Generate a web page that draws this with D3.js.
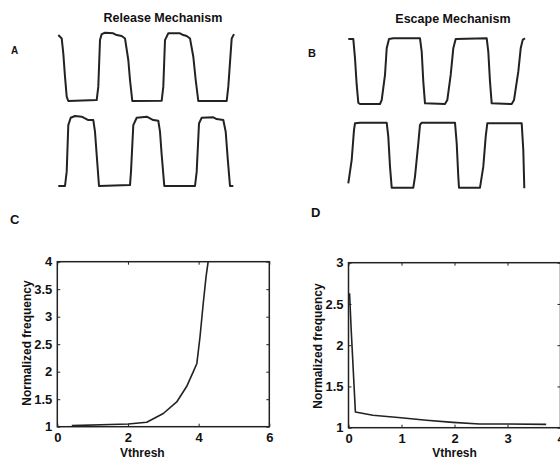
<!DOCTYPE html>
<html>
<head>
<meta charset="utf-8">
<script src="https://cdn.jsdelivr.net/npm/d3@7"></script>
<style>
  body { margin: 0; background: #fff; }
  svg { display: block; font-family: "Liberation Sans", Arial, sans-serif; }
  .wave, .curve { fill: none; stroke: #222; stroke-linejoin: round; }
  .box { fill: none; stroke: #222; stroke-width: 1.5; }
  .lbl { font-weight: bold; fill: #111; }
</style>
</head>
<body>
<svg id="chart" width="560" height="459"></svg>
<script>
// membrane traces: [time (ms), voltage (mV)]
const releaseTop = [[8.3,-11.3],[11.7,-13.8],[13.3,-24.8],[15,-42],[16.7,-56.8],[18.3,-60],[46.7,-59.3],[48.3,-49.4],[50,-15],[51.7,-10.6],[55,-9.6],[63.3,-10],[66.7,-11.3],[71.7,-12],[75,-13.8],[78.3,-29.7],[80,-44.5],[82.3,-60],[111.7,-59.8],[113.3,-49.4],[115,-15],[118.3,-10],[130,-10],[133.3,-11.3],[136.7,-12],[140,-13.8],[143.3,-27.3],[145.7,-44.5],[148.3,-60],[176.7,-60],[178.3,-49.4],[181.7,-13.8],[184,-10.6]];
const releaseBottom = [[8.3,-60],[15,-60],[16.7,-49.4],[18.3,-15],[20.7,-9.6],[25,-8.3],[31.7,-8.8],[35,-10],[38.3,-11.3],[43.3,-11.3],[45,-19.9],[46.7,-37.1],[49,-60],[80,-59.3],[81,-49.4],[83.3,-15],[86.7,-9.6],[96.7,-8.8],[100,-10],[103.3,-11.3],[108.3,-11.8],[110,-19.9],[111.7,-37.1],[114.3,-60],[145,-60],[146.7,-49.4],[149,-13.8],[151.7,-9.6],[163.3,-9.3],[166.7,-10.6],[173.3,-11.3],[175.7,-19.9],[177.7,-39.6],[180,-60],[183.3,-60]];
const escapeTop = [[8.3,-10.5],[13.3,-10.5],[15,-25.2],[16.7,-45.5],[18.3,-59],[20,-60],[40,-60],[41.7,-57],[45,-37.9],[46.7,-17.6],[49,-10.5],[53.3,-10],[80,-10],[81.7,-20.1],[83.3,-43],[85,-59.5],[105,-60],[107.3,-57],[110.7,-37.9],[113.3,-17.6],[115.7,-10.5],[146.7,-10],[148.3,-20.1],[150,-43],[151.7,-59.5],[171.7,-60],[174,-57],[178.3,-35.4],[180.7,-17.6],[182.7,-11.2],[185,-10]];
const escapeBottom = [[8.3,-56.2],[11.7,-38.4],[14,-15.5],[15,-10.5],[20,-10],[46.7,-10],[48.3,-20.6],[50,-43.5],[51.7,-59.5],[73.3,-59.5],[75,-51.1],[78.3,-25.7],[80,-11.7],[81.7,-10],[115,-10],[116.7,-25.7],[118.3,-51.1],[119,-59.5],[140,-59.5],[143.3,-43.5],[145.7,-20.6],[147.3,-10.5],[181.7,-10.5],[183.3,-30.8],[184.3,-60]];

// normalized frequency vs Vthresh
const releaseVthresh = [0.41, 1.49, 2.01, 2.53, 3.0, 3.38, 3.66, 3.85, 3.95, 4.04, 4.13, 4.21, 4.27];
const releaseFreq    = [1.02, 1.04, 1.05, 1.08, 1.24, 1.45, 1.73, 2.0, 2.15, 2.64, 3.24, 3.73, 4.0];
const escapeVthresh  = [0.02, 0.05, 0.13, 0.46, 0.99, 1.47, 1.97, 2.47, 2.97, 3.73];
const escapeFreq     = [2.63, 2.2, 1.19, 1.15, 1.12, 1.09, 1.065, 1.045, 1.045, 1.04];

const cTicksX = [0, 2, 4, 6];
const cTicksY = [1, 1.5, 2, 2.5, 3, 3.5, 4];
const dTicksX = [0, 1, 2, 3, 4];
const dTicksY = [1, 1.5, 2, 2.5, 3];

const svg = d3.select("#chart");
svg.append("rect").attr("width", 560).attr("height", 459).attr("fill", "#fff");

// ---- voltage traces ----
function trace(data, xr, yr) {
  const x = d3.scaleLinear().domain([0, 200]).range(xr);
  const y = d3.scaleLinear().domain([-60, -10]).range(yr);
  svg.append("path")
    .datum(data)
    .attr("class", "wave")
    .attr("stroke-width", 2)
    .attr("d", d3.line().x(d => x(d[0])).y(d => y(d[1])));
}
trace(releaseTop, [50, 250], [101, 33.3]);
trace(releaseBottom, [50, 250], [186, 118.3]);
trace(escapeTop, [340, 540], [104, 38.3]);
trace(escapeBottom, [340, 540], [188.3, 122.7]);

svg.append("text").attr("class", "lbl").attr("x", 163).attr("y", 22)
  .attr("text-anchor", "middle").attr("font-size", 12.5).text("Release Mechanism");
svg.append("text").attr("class", "lbl").attr("x", 453).attr("y", 23)
  .attr("text-anchor", "middle").attr("font-size", 12.5).text("Escape Mechanism");

// panel letters
[["A", 11, 54, 10], ["B", 308, 57, 11], ["C", 10, 224, 13], ["D", 311, 217, 13]]
  .forEach(([t, x, y, s]) => svg.append("text").attr("class", "lbl")
    .attr("x", x).attr("y", y).attr("font-size", s).text(t));

// ---- frequency plots ----
function freqPlot(o) {
  const x = d3.scaleLinear().domain(o.xd).range(o.xr);
  const y = d3.scaleLinear().domain(o.yd).range(o.yr);
  const g = svg.append("g");

  // inward ticks on all sides, Matlab style
  const tl = 3;
  g.append("g").attr("transform", `translate(0,${o.yr[0]})`)
    .call(d3.axisBottom(x).tickValues(o.tx).tickSize(-tl).tickFormat(d3.format("d")))
    .call(a => a.select(".domain").remove())
    .call(a => a.selectAll("text").attr("class", "lbl").attr("font-size", 13)
      .attr("y", 6).attr("fill", "#111"));
  g.append("g").attr("transform", `translate(0,${o.yr[1]})`)
    .call(d3.axisTop(x).tickValues(o.tx).tickSize(-tl).tickFormat(""))
    .call(a => a.select(".domain").remove());
  g.append("g").attr("transform", `translate(${o.xr[0]},0)`)
    .call(d3.axisLeft(y).tickValues(o.ty).tickSize(-tl).tickFormat(d3.format("")))
    .call(a => a.select(".domain").remove())
    .call(a => a.selectAll("text").attr("class", "lbl").attr("font-size", 13)
      .attr("x", -5).attr("fill", "#111"));
  g.append("g").attr("transform", `translate(${o.xr[1]},0)`)
    .call(d3.axisRight(y).tickValues(o.ty).tickSize(-tl).tickFormat(""))
    .call(a => a.select(".domain").remove());
  g.selectAll("g").attr("font-family", null);
  g.selectAll(".tick line").attr("stroke", "#222");

  g.append("rect").attr("class", "box")
    .attr("x", o.xr[0]).attr("y", o.yr[1])
    .attr("width", o.xr[1] - o.xr[0]).attr("height", o.yr[0] - o.yr[1]);

  g.append("path")
    .datum(d3.zip(o.vx, o.vy))
    .attr("class", "curve")
    .attr("stroke-width", 1.6)
    .attr("d", d3.line().x(d => x(d[0])).y(d => y(d[1])));

  g.append("text").attr("class", "lbl").attr("font-size", 12)
    .attr("text-anchor", "middle")
    .attr("x", (o.xr[0] + o.xr[1]) / 2 - o.xlShift).attr("y", 457).text("Vthresh");
  g.append("text").attr("class", "lbl").attr("font-size", 12)
    .attr("text-anchor", "middle")
    .attr("transform", `translate(${o.ylx},${o.yly}) rotate(-90)`)
    .attr("dy", "0.35em").text("Normalized frequency");
}

freqPlot({ xd: [0, 6], yd: [1, 4], xr: [57.3, 269.3], yr: [426.7, 261.7],
  tx: cTicksX, ty: cTicksY, vx: releaseVthresh, vy: releaseFreq,
  xlShift: 21, ylx: 27, yly: 343 });
freqPlot({ xd: [0, 4], yd: [1, 3], xr: [348.5, 560.5], yr: [427.7, 262.7],
  tx: dTicksX, ty: dTicksY, vx: escapeVthresh, vy: escapeFreq,
  xlShift: 0, ylx: 318, yly: 346 });
</script>
</body>
</html>
